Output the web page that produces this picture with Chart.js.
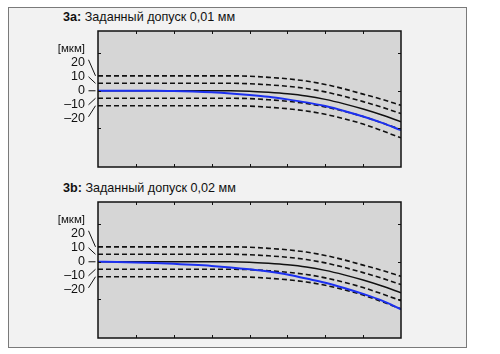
<!DOCTYPE html>
<html>
<head>
<meta charset="utf-8">
<script src="https://cdn.jsdelivr.net/npm/chart.js@4/dist/chart.umd.min.js"></script>
<style>
body{margin:0;background:#fff;width:500px;height:354px;overflow:hidden;font-family:"Liberation Sans",Arial,sans-serif;}
#frame{position:absolute;left:8px;top:7px;width:459px;height:341px;box-sizing:border-box;border:1px solid #7a7a7a;background:#f2f2f2;}
.ttl{position:absolute;left:63px;font-size:12.6px;color:#111;white-space:nowrap;}
.ttl b{font-weight:bold;}
canvas{position:absolute;left:0;}
</style>
</head>
<body>
<div id="frame"></div>
<div class="ttl" style="top:10px"><b>3a:</b> Заданный допуск 0,01 мм</div>
<div class="ttl" style="top:181px"><b>3b:</b> Заданный допуск 0,02 мм</div>
<div style="position:absolute;left:0;top:0;width:500px;height:175px"><canvas id="c1"></canvas></div>
<div style="position:absolute;left:0;top:171px;width:500px;height:175px"><canvas id="c2"></canvas></div>
<script>
// x positions (tick units along the contour)
var xs      = [0,0.5,1,1.5,2,2.5,3,3.5,4,4.5,5,5.5,6,6.5,7,7.5,8];
// nominal contour and tolerance lines [мкм]
var nominal = [0,0,0,0,0,0,0,0,-0.5,-2,-4,-7,-11.5,-17.5,-24.5,-32.5,-41.5];
var up20    = [20,20,20,20,20,20,20,20,19.5,18,16,13,8.5,2.5,-4.5,-11.5,-19.5];
var up10    = [10,10,10,10,10,10,10,10,9.5,8,6,3,-1.5,-7.5,-14.5,-22,-30.5];
var dn10    = [-10,-10,-10,-10,-10,-10,-10,-10,-10.5,-12,-14,-17,-21.5,-27.5,-34.5,-43,-52];
var dn20    = [-20,-20,-20,-20,-20,-20,-20,-20,-20.5,-22,-24,-27,-31.5,-37.5,-44.5,-53.5,-63];
// measured contour
var meas1   = [0,0,0,0,-0.3,-1,-2,-3.5,-5.5,-8,-11.5,-15.5,-20.5,-27,-34.5,-43,-52.7];
var meas2   = [0,-0.3,-0.8,-1.6,-2.8,-4,-5.5,-7.5,-10,-13,-17,-22.5,-28,-35,-43,-52,-63.5];
// side labels
var sideLabels = ['20','10','0','–10','–20'];
var sideRefs   = [20,10,0,-10,-20];
var xTicks = [1,2,3,4,5,6,7];
var yTicks = [-50,0,50];

function pts(arr){
	var out=[];
	for(var i=0;i<xs.length;++i){ out.push({x:xs[i],y:arr[i]}); }
	return out;
}

function blackLine(arr,dashed){
	return {data:pts(arr),borderColor:'#111',borderWidth:dashed?1.6:1.5,borderDash:dashed?[5,3]:[],
		pointRadius:0,cubicInterpolationMode:'monotone',fill:false};
}

var decor = {
	id:'decor',
	beforeDatasetsDraw:function(chart){
		var a=chart.chartArea, c=chart.ctx;
		c.save();
		c.fillStyle='#d6d6d6';
		c.fillRect(a.left,a.top,a.right-a.left,a.bottom-a.top);
		c.restore();
	},
	afterDraw:function(chart){
		var a=chart.chartArea, c=chart.ctx, xS=chart.scales.x, yS=chart.scales.y;
		c.save();
		c.strokeStyle='#111';
		c.lineWidth=1.5;
		c.strokeRect(a.left,a.top,a.right-a.left,a.bottom-a.top);
		c.lineWidth=1;
		c.beginPath();
		xTicks.forEach(function(t){
			var px=Math.round(xS.getPixelForValue(t))+0.5;
			c.moveTo(px,a.top);c.lineTo(px,a.top+3);
			c.moveTo(px,a.bottom);c.lineTo(px,a.bottom-3);
		});
		yTicks.forEach(function(t){
			var py=Math.round(yS.getPixelForValue(t))+0.5;
			c.moveTo(a.left,py);c.lineTo(a.left+3,py);
			c.moveTo(a.right,py);c.lineTo(a.right-3,py);
		});
		c.stroke();
		// unit and side labels with leader lines
		var y0=yS.getPixelForValue(0);
		c.fillStyle='#111';
		c.textAlign='right';
		c.textBaseline='middle';
		c.font='11.5px "Liberation Sans", Arial, sans-serif';
		c.fillText('[мкм]',85,y0-42);
		c.font='12.5px "Liberation Sans", Arial, sans-serif';
		c.beginPath();
		for(var i=0;i<sideLabels.length;++i){
			var ly=y0+(i-2)*14;
			c.fillText(sideLabels[i],85,ly);
			var ty=yS.getPixelForValue(sideRefs[i]);
			var sy = i==0 ? ly-3 : (i==4 ? ly-2 : ly);
			c.moveTo(88.5,sy);c.lineTo(95.5,ty);
		}
		c.stroke();
		c.restore();
	}
};

function makeChart(id,meas){
	var ctx=document.getElementById(id).getContext('2d');
	return new Chart(ctx,{
		type:'line',
		data:{datasets:[
			{data:pts(meas),borderColor:'#1c30f0',borderWidth:2,pointRadius:0,cubicInterpolationMode:'monotone',fill:false},
			blackLine(nominal,false),
			blackLine(up20,true),
			blackLine(up10,true),
			blackLine(dn10,true),
			blackLine(dn20,true)
		]},
		options:{
			responsive:true,maintainAspectRatio:false,animation:false,
			layout:{padding:{left:98,right:99,top:31,bottom:8}},
			plugins:{legend:{display:false},tooltip:{enabled:false},title:{display:false}},
			scales:{
				x:{type:'linear',min:0,max:8,display:false},
				y:{type:'linear',min:-102,max:80,display:false}
			}
		},
		plugins:[decor]
	});
}

makeChart('c1',meas1);
makeChart('c2',meas2);
</script>
</body>
</html>
